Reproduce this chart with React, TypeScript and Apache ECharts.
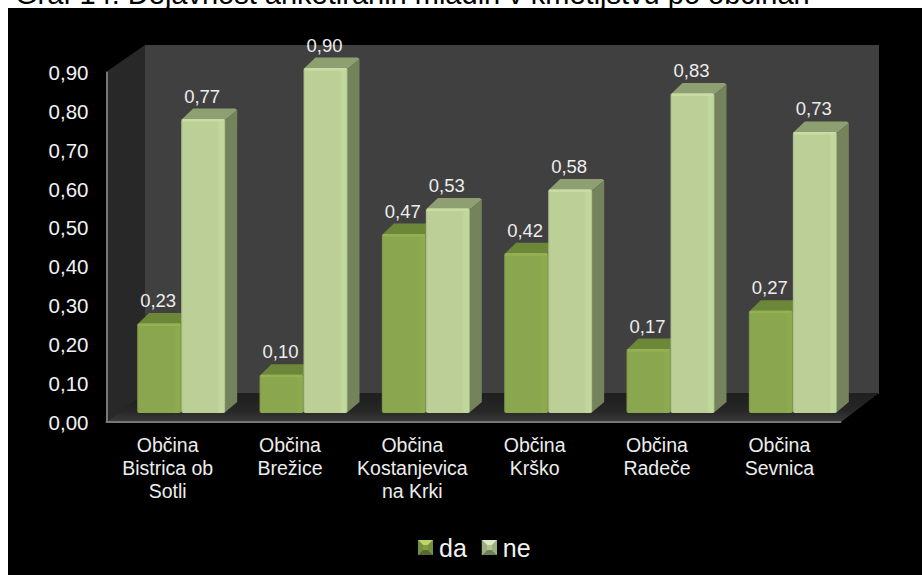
import React, { useEffect, useRef } from "react";
import * as echarts from "echarts";

const titleText = "Graf 14: Dejavnost anketiranih mladih v kmetijstvu po občinah";
const categories = [
  "Občina\nBistrica ob\nSotli",
  "Občina\nBrežice",
  "Občina\nKostanjevica\nna Krki",
  "Občina\nKrško",
  "Občina\nRadeče",
  "Občina\nSevnica",
];
const daValues = [0.2333, 0.1, 0.4667, 0.4167, 0.1667, 0.2667];
const neValues = [0.7667, 0.9, 0.5333, 0.5833, 0.8333, 0.7333];
const FONT = '"Liberation Sans", Arial, sans-serif';
const fmt = (v: number) => v.toFixed(2).replace(".", ",");

const BAR_W = 44;
const DX = 12;
const DY = 11;

type Palette = { edge: string; body: string; shine: string; top: string; side: string; rim: string };
const daPal: Palette = { edge: "#7A9442", body: "#8AA64E", shine: "#8DAA4E", top: "#6C8737", side: "#5F7430", rim: "#94B254" };
const nePal: Palette = { edge: "#A3B488", body: "#BBCF97", shine: "#C2D79B", top: "#8E9F72", side: "#75835C", rim: "#C8DDA3" };

function barRenderer(pal: Palette, offset: number) {
  return (_params: any, api: any) => {
    const i = api.value(0);
    const v = api.value(1);
    const [cx, yTop] = api.coord([i, v]);
    const yBase = api.coord([i, 0])[1];
    const x0 = cx + offset;
    const x1 = x0 + BAR_W;
    const frontFill = new echarts.graphic.LinearGradient(0, 0, 1, 0, [
      { offset: 0, color: pal.edge },
      { offset: 0.04, color: pal.body },
      { offset: 0.82, color: pal.body },
      { offset: 0.88, color: pal.shine },
      { offset: 0.97, color: pal.shine },
      { offset: 1, color: pal.edge },
    ]);
    return {
      type: "group",
      children: [
        {
          type: "polygon",
          shape: { points: [[x1 - 1, yTop + 2], [x1 + DX, yTop - DY + 2], [x1 + DX, yBase - DY], [x1 - 1, yBase]] },
          style: { fill: pal.side },
        },
        {
          type: "polygon",
          shape: { points: [[x0, yTop + 1], [x0 + DX, yTop - DY + 0.5], [x1 + DX - 2, yTop - DY + 0.5], [x1 + DX, yTop - DY + 2], [x1, yTop + 1]] },
          style: { fill: pal.top },
        },
        {
          type: "rect",
          shape: { x: x0, y: yTop, width: BAR_W, height: yBase - yTop, r: 2 },
          style: { fill: frontFill },
        },
        {
          type: "rect",
          shape: { x: x0 + 1, y: yTop, width: BAR_W - 2, height: 2.5, r: 1 },
          style: { fill: pal.rim },
        },
        {
          type: "text",
          style: {
            x: x0 + 21,
            y: yTop - 23,
            text: fmt(v),
            fill: "#EDEDED",
            font: `18.5px ${FONT}`,
            align: "center",
            verticalAlign: "middle",
          },
        },
      ],
    };
  };
}

function legendBevel(x: number, y: number, light: string, dark: string, side: string) {
  const s = 15;
  const b = 5;
  return [
    { type: "polygon", z: 20, shape: { points: [[x, y], [x + s, y], [x + s - b, y + b], [x + b, y + b]] }, style: { fill: light } },
    { type: "polygon", z: 20, shape: { points: [[x, y + s], [x + s, y + s], [x + s - b, y + s - b], [x + b, y + s - b]] }, style: { fill: dark } },
    { type: "polygon", z: 20, shape: { points: [[x, y], [x + b, y + b], [x + b, y + s - b], [x, y + s]] }, style: { fill: side } },
    { type: "polygon", z: 20, shape: { points: [[x + s, y], [x + s - b, y + b], [x + s - b, y + s - b], [x + s, y + s]] }, style: { fill: side } },
  ];
}

export default function App() {
  const ref = useRef<HTMLDivElement>(null);
  useEffect(() => {
    const chart = echarts.init(ref.current!, null, { renderer: "svg" });
    chart.setOption({
      animation: false,
      backgroundColor: "#FFFFFF",
      title: {
        text: titleText,
        left: 10,
        top: -26,
        z: -3,
        textStyle: { fontFamily: FONT, fontSize: 29, fontWeight: "normal", color: "#000000" },
      },
      legend: {
        left: 413,
        top: 530,
        itemWidth: 15,
        itemHeight: 15,
        itemGap: 15,
        icon: "rect",
        selectedMode: false,
        textStyle: { color: "#F2F2F2", fontFamily: FONT, fontSize: 25, padding: [0, 0, 0, 1] },
        data: ["da", "ne"],
      },
      grid: [
        { left: 106.5, width: 734, top: 72.5, height: 349.5, containLabel: false },
        { left: 120, width: 734, top: 68, height: 345, show: false },
      ],
      xAxis: [
        {
          gridIndex: 0,
          type: "category",
          data: categories,
          axisTick: { show: false },
          axisLine: { show: true, lineStyle: { color: "#777777", width: 2 } },
          axisLabel: {
            color: "#EDEDED",
            fontFamily: FONT,
            fontSize: 19.5,
            lineHeight: 23,
            margin: 11,
            interval: 0,
            verticalAlign: "top",
          },
        },
        { gridIndex: 1, type: "category", data: categories, show: false },
      ],
      yAxis: [
        {
          gridIndex: 0,
          type: "value",
          min: 0,
          max: 0.9,
          interval: 0.1,
          splitLine: { show: false },
          axisTick: { show: false },
          axisLine: { show: true, lineStyle: { color: "#777777", width: 2 } },
          axisLabel: {
            color: "#F2F2F2",
            fontFamily: FONT,
            fontSize: 20.5,
            margin: 18,
            formatter: (v: number) => fmt(v),
          },
        },
        { gridIndex: 1, type: "value", min: 0, max: 0.9, interval: 0.1, show: false },
      ],
      graphic: [
        { type: "rect", z: -2, shape: { x: 8, y: 8, width: 914, height: 567 }, style: { fill: "#000000" } },
        { type: "rect", z: -1, shape: { x: 145, y: 45, width: 734, height: 349 }, style: { fill: "#404040" } },
        {
          type: "polygon",
          z: -1,
          shape: { points: [[106, 72], [145, 45], [145, 394], [106, 422]] },
          style: { fill: "#282828" },
        },
        {
          type: "polygon",
          z: -1,
          shape: { points: [[106, 422], [841, 422], [879, 393], [145, 393]] },
          style: {
            fill: new echarts.graphic.LinearGradient(0, 0, 0, 1, [
              { offset: 0, color: "#1F1F1F" },
              { offset: 0.6, color: "#262626" },
              { offset: 1, color: "#3A3A3A" },
            ]),
          },
        },
        ...legendBevel(418, 540, "#BFD56A", "#56692F", "#76903F"),
        ...legendBevel(482, 540, "#DDE8C4", "#71805A", "#9DAE80"),
      ],
      series: [
        {
          name: "da",
          type: "custom",
          xAxisIndex: 1,
          yAxisIndex: 1,
          clip: false,
          itemStyle: { color: "#849E48" },
          data: daValues.map((v, i) => [i, v]),
          encode: { x: 0, y: 1 },
          renderItem: barRenderer(daPal, -BAR_W),
        },
        {
          name: "ne",
          type: "custom",
          xAxisIndex: 1,
          yAxisIndex: 1,
          clip: false,
          itemStyle: { color: "#B3C494" },
          data: neValues.map((v, i) => [i, v]),
          encode: { x: 0, y: 1 },
          renderItem: barRenderer(nePal, 0),
        },
      ],
    });
    return () => chart.dispose();
  }, []);
  return <div ref={ref} style={{ position: "absolute", left: 0, top: 0, width: 922, height: 575 }} />;
}
